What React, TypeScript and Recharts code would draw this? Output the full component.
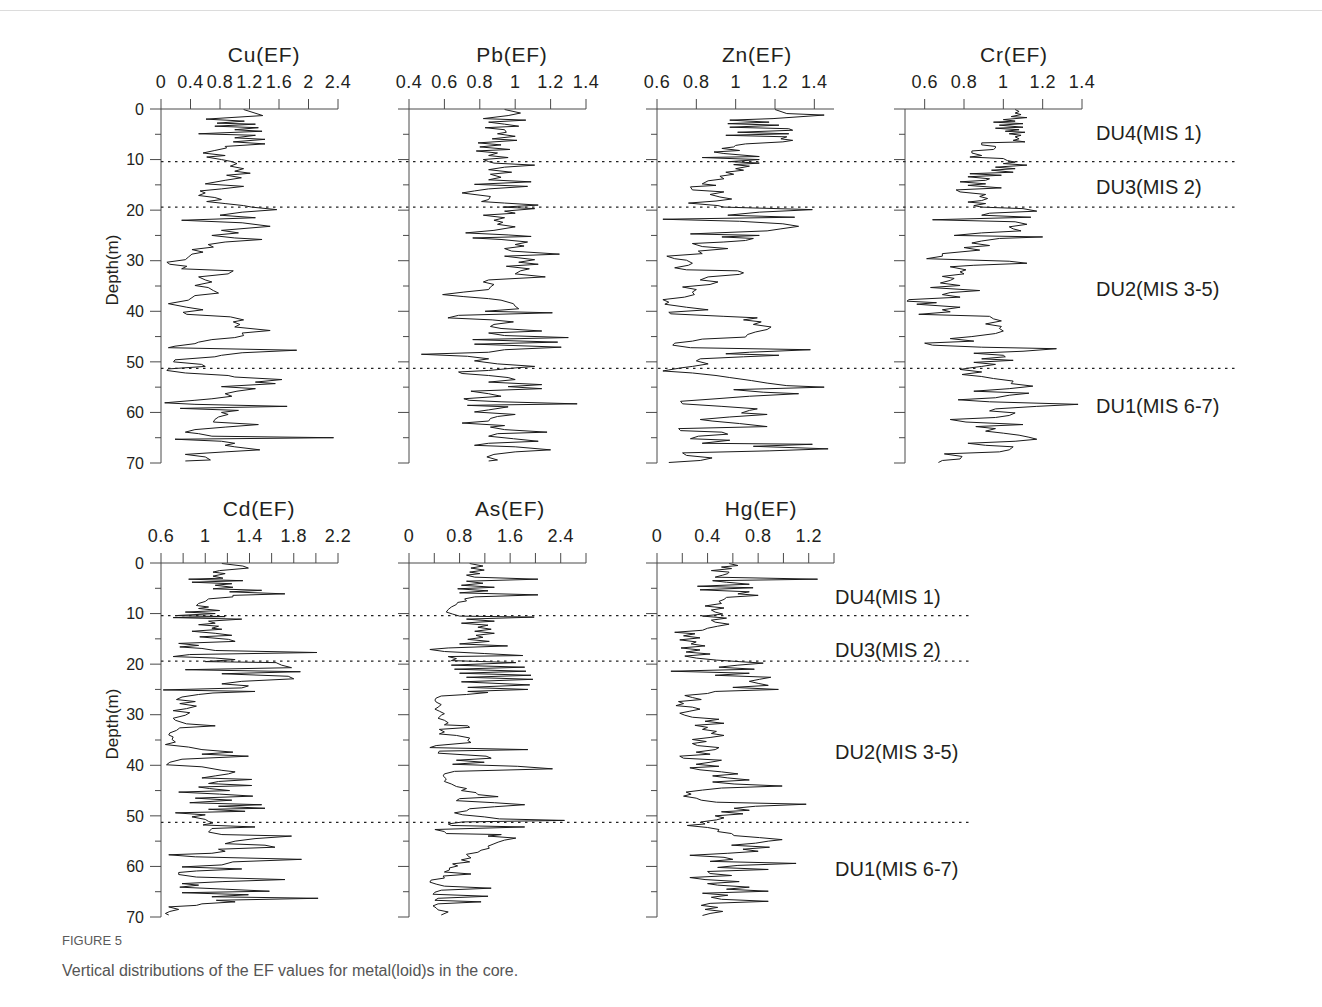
import { Line, LineChart, ReferenceLine, XAxis, YAxis } from "recharts";

// [depth (m), EF]
const cuEF: [number, number][] = [
  [0.1, 1.12], [1.3, 1.38], [2.0, 0.61], [2.4, 1.13], [2.8, 0.76], [3.0, 1.28], [3.4, 0.73], [3.7, 1.32], [4.1, 1.0], [4.4, 1.37],
  [4.9, 0.51], [5.2, 1.28], [5.7, 1.0], [6.0, 1.41], [6.5, 0.98], [6.9, 1.41], [7.4, 0.87], [7.7, 0.89], [8.2, 0.73], [8.7, 0.57],
  [9.2, 0.87], [9.5, 0.62], [10.0, 0.82], [10.4, 0.96], [10.8, 1.03], [11.3, 0.94], [11.8, 1.12], [12.3, 1.0], [12.7, 1.21], [13.1, 0.89],
  [13.6, 1.09], [14.1, 0.87], [14.8, 0.6], [15.3, 1.12], [15.8, 0.82], [16.2, 0.53], [16.6, 0.6], [17.1, 0.51], [17.5, 0.73], [17.9, 0.82],
  [18.3, 0.62], [18.7, 0.87], [19.1, 1.12], [19.4, 1.23], [19.9, 1.57], [20.4, 1.1], [21.0, 0.8], [21.5, 1.28], [22.0, 0.28], [22.5, 1.1],
  [23.2, 1.48], [24.0, 0.82], [24.5, 1.05], [25.0, 0.69], [25.5, 1.0], [25.8, 1.37], [26.3, 0.87], [26.8, 0.64], [27.3, 0.71], [27.8, 0.42],
  [28.3, 0.57], [28.7, 0.42], [29.3, 0.37], [29.8, 0.33], [30.3, 0.08], [30.7, 0.12], [31.1, 0.35], [31.6, 0.28], [32.0, 0.98], [32.6, 0.91],
  [33.2, 0.51], [33.8, 0.6], [34.2, 0.69], [34.9, 0.46], [35.3, 0.64], [35.9, 0.71], [36.4, 0.78], [36.9, 0.46], [37.3, 0.42], [37.8, 0.37],
  [38.5, 0.1], [39.2, 0.35], [39.7, 0.57], [40.2, 0.3], [40.6, 0.35], [41.1, 0.94], [41.7, 1.12], [42.1, 0.98], [42.6, 1.07], [43.1, 1.0],
  [43.8, 1.48], [44.3, 1.1], [44.8, 1.12], [45.2, 1.0], [45.6, 0.69], [46.1, 0.51], [46.4, 0.46], [46.9, 0.19], [47.2, 0.1], [47.7, 1.84],
  [48.2, 1.1], [48.7, 0.82], [49.0, 0.73], [49.6, 0.19], [50.0, 0.17], [50.5, 0.55], [50.9, 0.6], [51.4, 0.1], [51.7, 0.08], [52.2, 0.33],
  [52.7, 0.91], [53.0, 1.0], [53.5, 1.64], [54.0, 1.28], [54.3, 1.55], [54.9, 0.82], [55.3, 1.28], [55.8, 1.03], [56.3, 0.87], [56.8, 0.96],
  [57.3, 0.69], [57.6, 0.46], [58.1, 0.05], [58.4, 0.46], [58.8, 1.71], [59.2, 0.26], [59.6, 1.05], [60.0, 0.82], [60.4, 0.91], [60.9, 0.78],
  [61.4, 0.73], [61.9, 0.71], [62.4, 1.32], [62.9, 0.87], [63.4, 0.46], [63.9, 0.33], [64.2, 0.51], [64.7, 0.69], [65.0, 2.34], [65.3, 0.19],
  [65.7, 0.82], [66.1, 1.0], [66.5, 0.87], [66.8, 1.0], [67.4, 1.34], [67.8, 0.87], [68.3, 0.33], [68.8, 0.6], [69.4, 0.67], [69.6, 0.33],
];

const pbEF: [number, number][] = [
  [0.1, 0.94], [0.8, 1.03], [1.3, 0.96], [1.9, 0.82], [2.2, 1.06], [2.6, 0.85], [3.0, 0.94], [3.4, 1.02], [3.7, 0.83], [4.1, 0.94],
  [4.6, 0.95], [4.9, 0.9], [5.4, 1.0], [5.9, 0.87], [6.2, 1.01], [6.7, 0.79], [7.1, 0.92], [7.5, 0.8], [8.0, 0.97], [8.3, 0.78],
  [8.7, 0.9], [9.2, 0.85], [9.6, 0.96], [10.0, 0.82], [10.4, 0.85], [10.7, 0.88], [11.1, 1.11], [11.5, 0.94], [12.0, 0.85], [12.5, 0.98],
  [12.9, 0.86], [13.5, 0.92], [14.0, 0.85], [14.4, 1.09], [14.9, 0.77], [15.3, 1.07], [15.8, 0.85], [16.2, 0.77], [16.6, 0.7], [17.3, 0.86],
  [17.9, 0.85], [18.3, 0.81], [18.6, 0.94], [19.0, 1.13], [19.4, 0.93], [19.7, 1.11], [20.2, 0.94], [20.6, 1.0], [21.0, 0.82], [21.5, 0.94],
  [22.0, 0.88], [22.4, 0.93], [22.8, 0.9], [23.3, 1.0], [24.0, 0.88], [24.5, 0.72], [24.9, 0.96], [25.2, 1.09], [25.5, 0.76], [25.8, 0.92],
  [26.3, 1.07], [26.8, 1.0], [27.1, 1.05], [27.6, 0.94], [28.1, 0.98], [28.7, 1.25], [29.1, 0.94], [29.8, 1.11], [30.3, 1.02], [30.7, 1.13],
  [31.1, 0.95], [31.6, 1.08], [32.0, 1.03], [32.6, 1.0], [33.2, 1.17], [33.8, 0.85], [34.2, 0.82], [34.7, 0.88], [35.2, 0.86], [35.7, 0.85],
  [36.2, 0.71], [36.7, 0.59], [37.1, 0.71], [37.5, 0.85], [37.8, 0.92], [38.5, 0.99], [39.0, 1.0], [39.5, 1.02], [40.0, 0.83], [40.3, 1.21],
  [40.8, 0.68], [41.3, 0.62], [41.7, 0.87], [42.1, 0.99], [42.6, 0.88], [43.0, 0.86], [43.4, 0.92], [43.9, 1.15], [44.3, 0.85], [44.8, 0.94],
  [45.2, 1.3], [45.6, 0.76], [46.1, 1.24], [46.5, 0.77], [47.1, 1.26], [47.6, 0.94], [48.1, 0.85], [48.5, 0.47], [48.9, 0.73], [49.4, 0.85],
  [49.8, 0.77], [50.4, 0.9], [50.9, 1.11], [51.2, 1.0], [51.7, 0.85], [52.0, 0.68], [52.3, 0.7], [52.7, 0.85], [53.1, 0.96], [53.5, 1.0],
  [54.0, 0.85], [54.5, 1.15], [54.9, 0.96], [55.3, 1.15], [55.8, 0.75], [56.3, 0.85], [56.8, 0.92], [57.3, 0.71], [57.6, 0.74], [57.9, 0.92],
  [58.3, 1.35], [58.6, 0.73], [58.9, 0.96], [59.5, 0.85], [59.9, 0.77], [60.4, 1.0], [60.8, 0.9], [61.2, 0.86], [61.7, 0.85], [62.1, 0.7],
  [62.6, 0.94], [62.9, 0.86], [63.4, 0.94], [63.9, 1.18], [64.2, 0.9], [64.7, 0.85], [65.2, 0.99], [65.7, 1.13], [66.1, 0.85], [66.5, 0.77],
  [66.8, 1.0], [67.4, 1.2], [67.8, 1.0], [68.3, 0.88], [68.8, 0.84], [69.4, 0.9], [69.6, 0.85],
];

const znEF: [number, number][] = [
  [0.1, 1.2], [0.9, 1.26], [1.2, 1.45], [1.9, 1.19], [2.2, 0.97], [2.6, 1.17], [2.9, 0.96], [3.2, 1.22], [3.6, 0.97], [3.9, 1.27],
  [4.2, 1.29], [4.6, 1.01], [4.9, 1.27], [5.2, 0.95], [5.5, 1.26], [5.9, 1.23], [6.2, 1.29], [6.5, 1.24], [6.9, 1.05], [7.2, 1.0],
  [7.5, 0.99], [7.8, 0.93], [8.2, 1.02], [8.5, 0.89], [8.8, 0.94], [9.4, 1.12], [9.6, 0.83], [10.0, 1.12], [10.4, 0.97], [10.7, 1.12],
  [11.0, 0.99], [11.3, 1.07], [11.8, 1.0], [12.1, 1.04], [12.5, 0.95], [12.9, 0.99], [13.3, 0.92], [13.8, 0.94], [14.2, 0.86], [14.8, 0.83],
  [15.1, 0.9], [15.4, 0.77], [16.0, 0.78], [16.4, 0.94], [16.9, 0.87], [17.4, 0.92], [17.8, 0.98], [18.2, 0.9], [18.6, 0.76], [19.1, 0.91],
  [19.4, 0.94], [19.9, 1.39], [20.4, 1.12], [21.0, 0.96], [21.4, 1.3], [21.8, 0.63], [22.2, 1.02], [22.7, 1.24], [23.2, 1.32], [23.7, 1.23],
  [24.1, 1.16], [24.7, 0.77], [25.0, 1.12], [25.3, 0.93], [25.6, 1.09], [26.0, 1.05], [26.3, 0.94], [26.6, 0.78], [27.2, 0.83], [27.6, 0.96],
  [28.1, 0.81], [28.6, 0.83], [29.1, 0.65], [29.6, 0.69], [29.9, 0.75], [30.5, 0.78], [30.9, 0.76], [31.4, 0.69], [31.8, 0.75], [32.0, 1.01],
  [32.4, 1.04], [32.7, 1.02], [33.2, 0.86], [33.8, 0.82], [34.2, 0.91], [34.7, 0.87], [35.2, 0.73], [35.7, 0.8], [36.2, 0.78], [36.7, 0.79],
  [37.2, 0.74], [37.7, 0.63], [38.2, 0.66], [38.6, 0.64], [39.2, 0.75], [39.7, 0.86], [40.2, 0.66], [40.5, 0.67], [41.0, 0.94], [41.3, 1.11],
  [41.7, 1.04], [42.1, 1.13], [42.6, 1.09], [43.1, 1.18], [43.6, 1.16], [44.1, 1.1], [44.6, 1.06], [45.1, 1.05], [45.5, 0.83], [45.9, 0.78],
  [46.3, 0.69], [46.7, 0.68], [47.2, 0.77], [47.6, 1.38], [48.1, 1.07], [48.4, 0.95], [48.7, 1.22], [49.0, 1.04], [49.4, 0.82], [49.8, 0.8],
  [50.4, 0.86], [50.9, 0.78], [51.2, 0.72], [51.6, 0.66], [51.8, 0.63], [52.2, 0.78], [52.7, 0.9], [53.1, 0.97], [53.7, 1.08], [54.2, 1.16],
  [54.7, 1.26], [55.0, 1.45], [55.5, 0.99], [56.0, 1.14], [56.3, 1.32], [56.8, 1.07], [57.3, 0.9], [57.8, 0.72], [58.3, 0.73], [58.8, 0.93],
  [59.3, 1.11], [59.6, 1.07], [60.1, 1.03], [60.4, 1.16], [60.9, 0.97], [61.4, 0.82], [61.7, 0.88], [62.2, 1.02], [62.8, 1.16], [63.2, 0.71],
  [63.6, 0.72], [63.9, 0.93], [64.3, 0.96], [64.7, 0.81], [65.2, 0.77], [65.5, 0.97], [66.1, 0.83], [66.3, 1.39], [66.7, 1.09], [67.2, 1.47],
  [67.6, 1.17], [68.0, 0.73], [68.5, 0.75], [69.0, 0.88], [69.5, 0.82], [69.9, 0.66],
];

const crEF: [number, number][] = [
  [0.1, 1.06], [0.5, 1.08], [0.8, 1.06], [1.1, 1.09], [1.5, 1.04], [1.7, 1.12], [2.1, 1.0], [2.4, 1.06], [2.6, 0.95], [2.9, 1.1],
  [3.2, 0.98], [3.6, 1.1], [3.8, 0.96], [4.1, 1.08], [4.4, 1.01], [4.6, 1.11], [4.9, 1.03], [5.2, 1.09], [5.5, 1.06], [5.9, 1.08],
  [6.2, 1.05], [6.5, 1.11], [6.7, 0.89], [7.1, 0.89], [7.4, 0.96], [7.7, 0.96], [8.0, 0.95], [8.3, 0.84], [8.7, 0.84], [9.2, 0.89],
  [9.5, 0.83], [9.8, 1.0], [10.2, 1.02], [10.5, 1.06], [10.8, 1.0], [11.1, 1.12], [11.5, 0.96], [11.8, 1.06], [12.1, 0.94], [12.5, 1.05],
  [12.8, 0.83], [13.1, 0.99], [13.4, 0.82], [13.8, 0.93], [14.1, 0.91], [14.4, 0.78], [14.8, 0.91], [15.1, 0.82], [15.6, 0.99], [16.0, 0.76],
  [16.4, 0.78], [16.9, 0.91], [17.3, 0.88], [17.7, 0.92], [18.1, 0.89], [18.4, 0.82], [18.7, 0.91], [19.1, 0.85], [19.4, 0.89], [19.7, 1.1],
  [20.2, 1.17], [20.6, 0.93], [21.0, 0.89], [21.4, 1.14], [21.9, 0.64], [22.3, 1.06], [22.8, 1.12], [23.3, 1.03], [23.7, 1.05], [24.1, 1.09],
  [24.5, 0.89], [25.0, 0.75], [25.3, 1.2], [25.6, 0.98], [26.1, 0.89], [26.5, 0.84], [27.0, 0.93], [27.4, 0.8], [27.9, 0.88], [28.6, 0.69],
  [29.1, 0.69], [29.6, 0.61], [30.1, 1.03], [30.5, 1.12], [30.9, 0.85], [31.2, 0.73], [31.8, 0.81], [32.2, 0.78], [32.6, 0.8], [33.1, 0.69],
  [33.5, 0.75], [33.9, 0.73], [34.4, 0.68], [34.9, 0.78], [35.3, 0.63], [35.9, 0.88], [36.3, 0.73], [36.7, 0.69], [37.2, 0.78], [37.7, 0.52],
  [38.0, 0.51], [38.3, 0.66], [38.6, 0.56], [39.2, 0.78], [39.7, 0.69], [40.1, 0.73], [40.6, 0.57], [41.0, 0.93], [41.5, 0.95], [41.9, 0.99],
  [42.5, 0.91], [43.0, 0.99], [43.4, 0.98], [43.9, 1.0], [44.4, 0.96], [45.0, 0.84], [45.4, 0.73], [45.9, 0.85], [46.3, 0.6], [46.7, 0.64],
  [47.1, 0.89], [47.4, 1.27], [47.9, 1.1], [48.3, 0.85], [48.7, 1.0], [49.0, 1.01], [49.4, 0.89], [49.7, 1.05], [50.1, 0.85], [50.5, 0.96],
  [50.9, 0.89], [51.2, 0.83], [51.5, 0.78], [52.0, 0.89], [52.5, 0.79], [52.9, 0.89], [53.3, 0.95], [53.8, 1.05], [54.3, 1.04], [54.8, 1.15],
  [55.3, 1.03], [55.8, 0.85], [56.2, 1.13], [56.6, 1.03], [57.1, 0.96], [57.5, 0.77], [57.9, 0.93], [58.4, 1.38], [58.8, 1.17], [59.3, 0.96],
  [59.7, 0.93], [60.1, 1.06], [60.6, 1.03], [61.0, 0.96], [61.4, 0.73], [61.9, 0.81], [62.4, 1.1], [62.8, 0.86], [63.2, 0.96], [63.7, 0.91],
  [64.1, 1.0], [64.5, 1.08], [64.9, 1.13], [65.3, 1.17], [65.7, 1.06], [66.1, 0.82], [66.5, 0.91], [66.8, 1.05], [67.4, 1.03], [67.8, 0.98],
  [68.2, 0.7], [68.7, 0.79], [69.2, 0.78], [69.5, 0.69], [69.9, 0.67],
];

const cdEF: [number, number][] = [
  [0.1, 1.15], [0.6, 1.34], [1.0, 1.39], [1.5, 1.13], [1.8, 1.07], [2.1, 1.18], [2.6, 1.07], [3.0, 1.16], [3.2, 0.85], [3.5, 1.34],
  [3.8, 0.88], [4.1, 1.24], [4.4, 1.09], [4.8, 1.25], [5.1, 1.07], [5.4, 1.51], [5.7, 1.22], [6.1, 1.72], [6.4, 1.25], [6.7, 1.25],
  [7.1, 1.03], [7.6, 1.0], [8.0, 0.94], [8.4, 0.92], [8.7, 1.03], [9.0, 0.94], [9.4, 1.13], [9.7, 0.82], [10.0, 1.09], [10.4, 0.73],
  [10.6, 1.18], [10.8, 0.71], [11.1, 1.33], [11.5, 1.03], [11.9, 1.09], [12.2, 0.94], [12.5, 1.12], [12.9, 1.06], [13.1, 1.15], [13.5, 0.88],
  [13.9, 1.09], [14.3, 1.24], [14.6, 0.95], [15.1, 1.21], [15.5, 1.27], [15.9, 0.76], [16.3, 0.94], [16.6, 0.77], [16.9, 0.97], [17.3, 1.09],
  [17.7, 2.01], [18.1, 0.86], [18.5, 0.71], [18.8, 1.09], [19.1, 1.27], [19.5, 1.0], [19.7, 1.64], [20.2, 1.69], [20.7, 1.78], [21.1, 0.82],
  [21.5, 1.86], [21.9, 1.15], [22.4, 1.75], [22.9, 1.8], [23.4, 1.33], [23.9, 1.15], [24.3, 1.39], [24.7, 1.33], [25.1, 0.62], [25.4, 1.45],
  [25.7, 1.07], [26.0, 0.94], [26.5, 0.79], [27.0, 0.74], [27.4, 0.91], [27.8, 0.77], [28.3, 0.92], [28.8, 0.83], [29.2, 0.71], [29.6, 0.86],
  [30.1, 0.82], [30.7, 0.71], [31.1, 0.73], [31.8, 0.83], [32.2, 1.09], [32.6, 0.77], [33.1, 0.74], [33.6, 0.68], [34.0, 0.67], [34.4, 0.71],
  [34.9, 0.7], [35.4, 0.73], [35.9, 0.64], [36.4, 0.85], [36.9, 0.97], [37.4, 1.25], [37.8, 0.97], [38.2, 1.39], [38.8, 0.79], [39.4, 0.68],
  [39.9, 0.65], [40.3, 0.97], [41.0, 1.15], [41.3, 1.27], [41.7, 1.21], [42.1, 1.09], [42.5, 0.97], [42.8, 1.42], [43.2, 1.12], [43.6, 1.03],
  [44.0, 1.42], [44.3, 0.94], [44.6, 1.04], [45.0, 1.22], [45.3, 0.76], [45.7, 1.13], [46.1, 1.43], [46.5, 0.91], [46.9, 1.24], [47.4, 0.86],
  [47.8, 1.51], [48.1, 1.12], [48.5, 1.54], [48.7, 1.03], [49.1, 1.36], [49.4, 0.73], [49.8, 1.0], [50.2, 0.88], [50.7, 1.0], [51.1, 1.03],
  [51.4, 1.07], [51.8, 0.98], [52.2, 1.45], [52.5, 1.06], [53.2, 1.03], [53.7, 1.15], [54.0, 1.78], [54.5, 1.45], [55.0, 1.27], [55.5, 1.18],
  [55.8, 1.54], [56.2, 1.63], [56.6, 1.12], [57.0, 1.18], [57.4, 1.06], [57.7, 0.67], [58.1, 0.91], [58.6, 1.87], [59.1, 1.25], [59.7, 1.15],
  [60.1, 0.79], [60.5, 1.33], [60.9, 0.92], [61.2, 0.76], [61.6, 0.76], [62.1, 0.92], [62.6, 1.72], [63.0, 1.16], [63.4, 0.79], [63.7, 0.94],
  [64.1, 0.77], [64.5, 1.18], [64.9, 1.58], [65.2, 0.79], [65.6, 1.39], [66.0, 1.06], [66.3, 2.02], [66.7, 1.1], [67.0, 1.27], [67.4, 0.97],
  [67.7, 0.92], [68.0, 0.67], [68.5, 0.76], [68.9, 0.68], [69.3, 0.64], [69.6, 0.67],
];

const asEF: [number, number][] = [
  [0.1, 0.96], [0.6, 1.17], [1.0, 0.98], [1.4, 1.19], [1.8, 0.96], [2.1, 1.12], [2.4, 0.91], [2.8, 1.04], [3.2, 2.04], [3.6, 0.91],
  [4.0, 1.17], [4.4, 0.83], [4.8, 1.35], [5.1, 0.77], [5.5, 1.25], [5.9, 0.8], [6.3, 2.04], [6.7, 1.04], [7.1, 0.88], [7.5, 0.91],
  [7.8, 0.77], [8.2, 0.75], [8.7, 0.67], [9.2, 0.62], [9.7, 0.59], [10.1, 0.69], [10.5, 0.8], [10.7, 1.98], [11.1, 0.91], [11.5, 1.35],
  [11.9, 0.83], [12.3, 1.25], [12.7, 1.09], [13.1, 1.3], [13.5, 1.04], [13.9, 1.35], [14.3, 1.06], [14.7, 1.17], [15.1, 0.93], [15.5, 1.27],
  [16.0, 0.8], [16.4, 1.56], [16.8, 0.62], [17.1, 0.33], [17.5, 0.56], [17.9, 1.19], [18.3, 1.8], [18.5, 0.62], [18.9, 0.75], [19.3, 0.67],
  [19.7, 1.69], [20.2, 0.67], [20.6, 1.83], [21.0, 0.72], [21.4, 1.85], [21.8, 0.8], [22.2, 1.93], [22.6, 0.91], [23.0, 1.96], [23.5, 0.83],
  [24.1, 1.91], [24.6, 0.93], [25.0, 1.88], [25.4, 0.93], [25.6, 1.25], [26.0, 0.91], [26.3, 0.51], [26.7, 0.43], [27.1, 0.41], [27.5, 0.43],
  [28.0, 0.51], [28.5, 0.46], [28.9, 0.41], [29.3, 0.48], [29.8, 0.56], [30.1, 0.51], [30.7, 0.46], [31.1, 0.56], [31.6, 0.62], [32.0, 0.56],
  [32.2, 0.93], [32.5, 0.96], [32.9, 0.48], [33.4, 0.56], [33.8, 0.48], [34.1, 0.75], [34.6, 0.96], [35.1, 0.93], [35.5, 0.98], [36.1, 0.43],
  [36.5, 0.33], [36.9, 1.88], [37.2, 0.48], [37.6, 0.46], [38.2, 1.22], [38.6, 1.3], [39.0, 0.75], [39.4, 1.19], [39.8, 0.69], [40.2, 1.72],
  [40.7, 2.27], [41.2, 0.72], [41.7, 0.56], [42.1, 0.54], [42.7, 0.59], [43.2, 0.56], [43.7, 0.67], [44.2, 0.75], [44.6, 0.91], [45.0, 0.83],
  [45.4, 1.06], [45.8, 1.09], [46.2, 1.41], [46.6, 0.8], [47.0, 0.75], [47.4, 1.35], [47.8, 1.83], [48.2, 1.35], [48.6, 0.96], [49.0, 0.91],
  [49.4, 0.72], [49.8, 0.85], [50.2, 1.19], [50.6, 1.43], [50.9, 2.46], [51.2, 0.85], [51.6, 0.62], [51.9, 0.67], [52.2, 1.83], [52.7, 0.41],
  [53.1, 0.56], [53.5, 0.59], [53.7, 1.46], [54.0, 1.25], [54.4, 1.69], [54.8, 1.51], [55.2, 1.41], [55.6, 1.33], [56.0, 1.25], [56.4, 1.27],
  [56.8, 1.14], [57.2, 1.09], [57.6, 0.91], [57.9, 0.93], [58.3, 0.98], [58.7, 0.83], [59.1, 0.96], [59.5, 0.69], [59.9, 0.77], [60.3, 0.64],
  [60.7, 0.64], [61.1, 0.56], [61.5, 0.98], [61.9, 0.54], [62.3, 0.56], [62.7, 0.35], [63.1, 0.33], [63.5, 0.43], [63.9, 0.56], [64.3, 1.3],
  [64.7, 0.51], [65.1, 0.41], [65.5, 0.38], [65.9, 1.25], [66.3, 0.46], [66.7, 0.41], [67.0, 1.14], [67.4, 0.46], [67.8, 0.38], [68.2, 0.43],
  [68.6, 0.46], [69.0, 0.62], [69.6, 0.51],
];

const hgEF: [number, number][] = [
  [0.1, 0.57], [0.5, 0.64], [0.8, 0.51], [1.1, 0.59], [1.5, 0.43], [1.8, 0.57], [2.1, 0.56], [2.4, 0.52], [2.8, 0.46], [3.2, 1.27],
  [3.5, 0.44], [3.8, 0.55], [4.2, 0.73], [4.6, 0.32], [4.9, 0.76], [5.3, 0.34], [5.7, 0.73], [6.1, 0.64], [6.4, 0.8], [6.8, 0.55],
  [7.2, 0.53], [7.6, 0.49], [8.0, 0.51], [8.5, 0.38], [8.9, 0.53], [9.3, 0.43], [9.7, 0.46], [10.1, 0.52], [10.5, 0.36], [10.9, 0.55],
  [11.3, 0.43], [11.7, 0.46], [12.1, 0.57], [12.5, 0.48], [12.9, 0.4], [13.3, 0.36], [13.7, 0.14], [14.0, 0.3], [14.4, 0.21], [14.8, 0.34],
  [15.2, 0.18], [15.6, 0.31], [16.0, 0.27], [16.4, 0.38], [16.8, 0.19], [17.2, 0.34], [17.6, 0.23], [18.0, 0.42], [18.4, 0.22], [18.8, 0.31],
  [19.2, 0.47], [19.5, 0.65], [19.8, 0.84], [20.2, 0.64], [20.6, 0.49], [21.0, 0.77], [21.4, 0.11], [21.8, 0.73], [22.2, 0.46], [22.6, 0.9],
  [23.0, 0.81], [23.4, 0.73], [23.8, 0.8], [24.2, 0.88], [24.6, 0.6], [25.0, 0.96], [25.4, 0.46], [25.8, 0.4], [26.2, 0.22], [26.6, 0.28],
  [27.0, 0.35], [27.4, 0.17], [27.8, 0.21], [28.2, 0.15], [28.5, 0.28], [28.9, 0.34], [29.3, 0.26], [29.7, 0.18], [30.1, 0.22], [30.5, 0.28],
  [30.9, 0.49], [31.3, 0.38], [31.7, 0.53], [32.1, 0.3], [32.5, 0.4], [32.9, 0.36], [33.3, 0.47], [33.7, 0.43], [34.1, 0.53], [34.5, 0.42],
  [34.9, 0.28], [35.3, 0.39], [35.7, 0.28], [36.1, 0.32], [36.5, 0.49], [36.9, 0.46], [37.4, 0.31], [37.8, 0.42], [38.2, 0.18], [38.6, 0.21],
  [39.0, 0.51], [39.4, 0.42], [39.8, 0.31], [40.2, 0.49], [40.5, 0.26], [40.9, 0.34], [41.3, 0.51], [41.7, 0.64], [42.1, 0.44], [42.5, 0.56],
  [42.9, 0.73], [43.3, 0.44], [43.7, 0.61], [44.1, 0.99], [44.5, 0.51], [44.9, 0.36], [45.3, 0.23], [45.7, 0.27], [46.1, 0.21], [46.5, 0.31],
  [46.9, 0.35], [47.3, 0.47], [47.7, 1.18], [48.1, 0.78], [48.5, 0.61], [48.9, 0.73], [49.2, 0.51], [49.6, 0.68], [50.0, 0.46], [50.4, 0.53],
  [50.8, 0.47], [51.2, 0.35], [51.6, 0.38], [51.9, 0.24], [52.3, 0.4], [52.7, 0.49], [53.1, 0.48], [53.5, 0.59], [53.9, 0.61], [54.3, 0.81],
  [54.7, 0.99], [55.0, 0.88], [55.4, 0.78], [55.8, 0.59], [56.2, 0.89], [56.6, 0.68], [57.0, 0.8], [57.4, 0.56], [57.8, 0.26], [58.2, 0.53],
  [58.6, 0.6], [59.0, 0.42], [59.4, 1.1], [59.8, 0.64], [60.2, 0.48], [60.6, 0.88], [61.0, 0.4], [61.4, 0.42], [61.8, 0.59], [62.2, 0.26],
  [62.6, 0.38], [63.0, 0.65], [63.4, 0.4], [63.7, 0.48], [64.1, 0.73], [64.5, 0.55], [64.9, 0.88], [65.3, 0.36], [65.7, 0.56], [66.1, 0.43],
  [66.5, 0.51], [66.9, 0.88], [67.3, 0.42], [67.7, 0.35], [68.1, 0.48], [68.5, 0.38], [68.9, 0.52], [69.3, 0.42], [69.7, 0.36],
];

// unit boundaries (m) and labels
const BOUNDARIES = [10.4, 19.4, 51.3];
const UNITS = ["DU4(MIS 1)", "DU3(MIS 2)", "DU2(MIS 3-5)", "DU1(MIS 6-7)"];

const DEPTH_TICKS = [0, 5, 10, 15, 20, 25, 30, 35, 40, 45, 50, 55, 60, 65, 70];

const cuTicks = [0, 0.4, 0.8, 1.2, 1.6, 2, 2.4];
const pbTicks = [0.4, 0.6, 0.8, 1, 1.2, 1.4];
const znTicks = [0.6, 0.8, 1, 1.2, 1.4];
const crTicks = [0.6, 0.8, 1, 1.2, 1.4];
const cdTicks = [0.6, 0.8, 1, 1.2, 1.4, 1.6, 1.8, 2, 2.2];
const cdLabels = [0.6, 1, 1.4, 1.8, 2.2];
const asTicks = [0, 0.4, 0.8, 1.2, 1.6, 2, 2.4, 2.8];
const asLabels = [0, 0.8, 1.6, 2.4];
const hgTicks = [0, 0.2, 0.4, 0.6, 0.8, 1, 1.2, 1.4];
const hgLabels = [0, 0.4, 0.8, 1.2];

const FONT = "Arial, 'Liberation Sans', Helvetica, sans-serif";
const INK = "#231f20";
const AXIS = "#4a4a4a";
const PLOT_W = 177;
const PLOT_H = 354;
const PAD_L = 70;
const PAD_T = 100;

function toRows(pairs: [number, number][]) {
  return pairs.map(([depth, value]) => ({ depth, value }));
}

function XTick(props: any) {
  const { x, y, payload, labels } = props;
  const show = labels.includes(payload.value);
  return (
    <g>
      <line x1={x} y1={y} x2={x} y2={y - 10} stroke={AXIS} strokeWidth={1} />
      {show && (
        <text x={x} y={y - 21} textAnchor="middle" fontSize={18} letterSpacing={0.5} fill={INK} fontFamily={FONT}>
          {String(payload.value)}
        </text>
      )}
    </g>
  );
}

function YTick(props: any) {
  const { x, y, payload, showLabel } = props;
  const major = payload.value % 10 === 0;
  return (
    <g>
      <line x1={x} y1={y} x2={x - (major ? 11 : 6)} y2={y} stroke={AXIS} strokeWidth={1} />
      {showLabel && major && (
        <text x={x - 17} y={y} dy="0.36em" textAnchor="end" fontSize={16} fill={INK} fontFamily={FONT}>
          {payload.value}
        </text>
      )}
    </g>
  );
}

type PanelProps = {
  data: [number, number][];
  left: number;
  top: number;
  domain: [number, number];
  ticks: number[];
  labels?: number[];
  depthLabels?: boolean;
};

function Panel({ data, left, top, domain, ticks, labels, depthLabels }: PanelProps) {
  const shown = labels ?? ticks;
  return (
    <div style={{ position: "absolute", left: left - PAD_L, top: top - PAD_T }}>
      <LineChart
        layout="vertical"
        width={PAD_L + PLOT_W + 20}
        height={PAD_T + PLOT_H + 10}
        data={toRows(data)}
        margin={{ top: 60, right: 20, bottom: 10, left: 20 }}
      >
        <XAxis
          type="number"
          orientation="top"
          domain={domain}
          ticks={ticks}
          interval={0}
          allowDataOverflow
          height={40}
          tickSize={0}
          tickMargin={0}
          tickLine={false}
          axisLine={{ stroke: AXIS }}
          tick={(p: any) => <XTick {...p} labels={shown} />}
        />
        {/* vertical layout already runs the depth axis top-down */}
        <YAxis
          type="number"
          dataKey="depth"
          domain={[0, 70]}
          ticks={DEPTH_TICKS}
          interval={0}
          allowDataOverflow
          width={50}
          tickSize={0}
          tickMargin={0}
          tickLine={false}
          axisLine={{ stroke: AXIS }}
          tick={(p: any) => <YTick {...p} showLabel={!!depthLabels} />}
        />
        <Line
          dataKey="value"
          type="linear"
          stroke="#1a1a1a"
          strokeWidth={1}
          dot={false}
          isAnimationActive={false}
        />
      </LineChart>
    </div>
  );
}

function Boundaries({ left, top, width }: { left: number; top: number; width: number }) {
  return (
    <div style={{ position: "absolute", left, top }}>
      <LineChart
        width={width}
        height={PLOT_H}
        data={BOUNDARIES.map((d) => ({ depth: d, x: 0.5 }))}
        margin={{ top: 0, right: 0, bottom: 0, left: 0 }}
      >
        <XAxis type="number" dataKey="x" domain={[0, 1]} hide />
        <YAxis type="number" dataKey="depth" domain={[0, 70]} reversed hide />
        {BOUNDARIES.map((b) => (
          <ReferenceLine key={b} y={b} stroke="#222" strokeWidth={1.2} strokeDasharray="2.5 4.5" />
        ))}
      </LineChart>
    </div>
  );
}

const titleStyle = (cx: number, cy: number): React.CSSProperties => ({
  position: "absolute",
  left: cx - 100,
  top: cy - 10.5,
  width: 200,
  textAlign: "center",
  fontSize: 21,
  lineHeight: 1,
  letterSpacing: 0.8,
  color: INK,
  fontFamily: FONT,
});

const unitStyle = (x: number, cy: number): React.CSSProperties => ({
  position: "absolute",
  left: x,
  top: cy - 10,
  fontSize: 20,
  lineHeight: 1,
  color: INK,
  fontFamily: FONT,
  whiteSpace: "nowrap",
});

const depthStyle = (cy: number): React.CSSProperties => ({
  position: "absolute",
  left: 113 - 60,
  top: cy - 10,
  width: 120,
  height: 20,
  lineHeight: "20px",
  textAlign: "center",
  fontSize: 17,
  color: INK,
  fontFamily: FONT,
  transform: "rotate(-90deg)",
});

export default function App() {
  const rowTop = [109, 563];
  return (
    <div style={{ position: "relative", width: 1322, height: 1007, background: "#fff", overflow: "hidden" }}>
      <style>{"body{margin:0;background:#fff}"}</style>
      <div style={{ position: "absolute", left: 0, top: 10, width: 1322, height: 1, background: "#dcdcdc" }} />

      <div style={titleStyle(264, 54)}>Cu(EF)</div>
      <div style={titleStyle(512, 54)}>Pb(EF)</div>
      <div style={titleStyle(757, 54)}>Zn(EF)</div>
      <div style={titleStyle(1014, 54)}>Cr(EF)</div>
      <div style={titleStyle(259, 508)}>Cd(EF)</div>
      <div style={titleStyle(510, 508)}>As(EF)</div>
      <div style={titleStyle(761, 508)}>Hg(EF)</div>

      <div style={depthStyle(270)}>Depth(m)</div>
      <div style={depthStyle(724)}>Depth(m)</div>

      <Panel data={cuEF} left={161} top={rowTop[0]} domain={[0, 2.4]} ticks={cuTicks} depthLabels />
      <Panel data={pbEF} left={409} top={rowTop[0]} domain={[0.4, 1.4]} ticks={pbTicks} />
      <Panel data={znEF} left={657} top={rowTop[0]} domain={[0.6, 1.5]} ticks={znTicks} />
      <Panel data={crEF} left={905} top={rowTop[0]} domain={[0.5, 1.4]} ticks={crTicks} />

      <Panel data={cdEF} left={161} top={rowTop[1]} domain={[0.6, 2.2]} ticks={cdTicks} labels={cdLabels} depthLabels />
      <Panel data={asEF} left={409} top={rowTop[1]} domain={[0, 2.8]} ticks={asTicks} labels={asLabels} />
      <Panel data={hgEF} left={657} top={rowTop[1]} domain={[0, 1.4]} ticks={hgTicks} labels={hgLabels} />

      <Boundaries left={161} top={rowTop[0]} width={1238 - 161} />
      <Boundaries left={161} top={rowTop[1]} width={970 - 161} />

      <div style={unitStyle(1096, 133)}>{UNITS[0]}</div>
      <div style={unitStyle(1096, 187)}>{UNITS[1]}</div>
      <div style={unitStyle(1096, 289)}>{UNITS[2]}</div>
      <div style={unitStyle(1096, 406)}>{UNITS[3]}</div>
      <div style={unitStyle(835, 597)}>{UNITS[0]}</div>
      <div style={unitStyle(835, 650)}>{UNITS[1]}</div>
      <div style={unitStyle(835, 752)}>{UNITS[2]}</div>
      <div style={unitStyle(835, 869)}>{UNITS[3]}</div>

      <div style={{ position: "absolute", left: 62, top: 934, fontSize: 13, lineHeight: 1, color: "#5a5a5a", fontFamily: FONT }}>
        FIGURE 5
      </div>
      <div style={{ position: "absolute", left: 62, top: 963, fontSize: 16, lineHeight: 1, color: "#555", fontFamily: FONT }}>
        Vertical distributions of the EF values for metal(loid)s in the core.
      </div>
    </div>
  );
}
